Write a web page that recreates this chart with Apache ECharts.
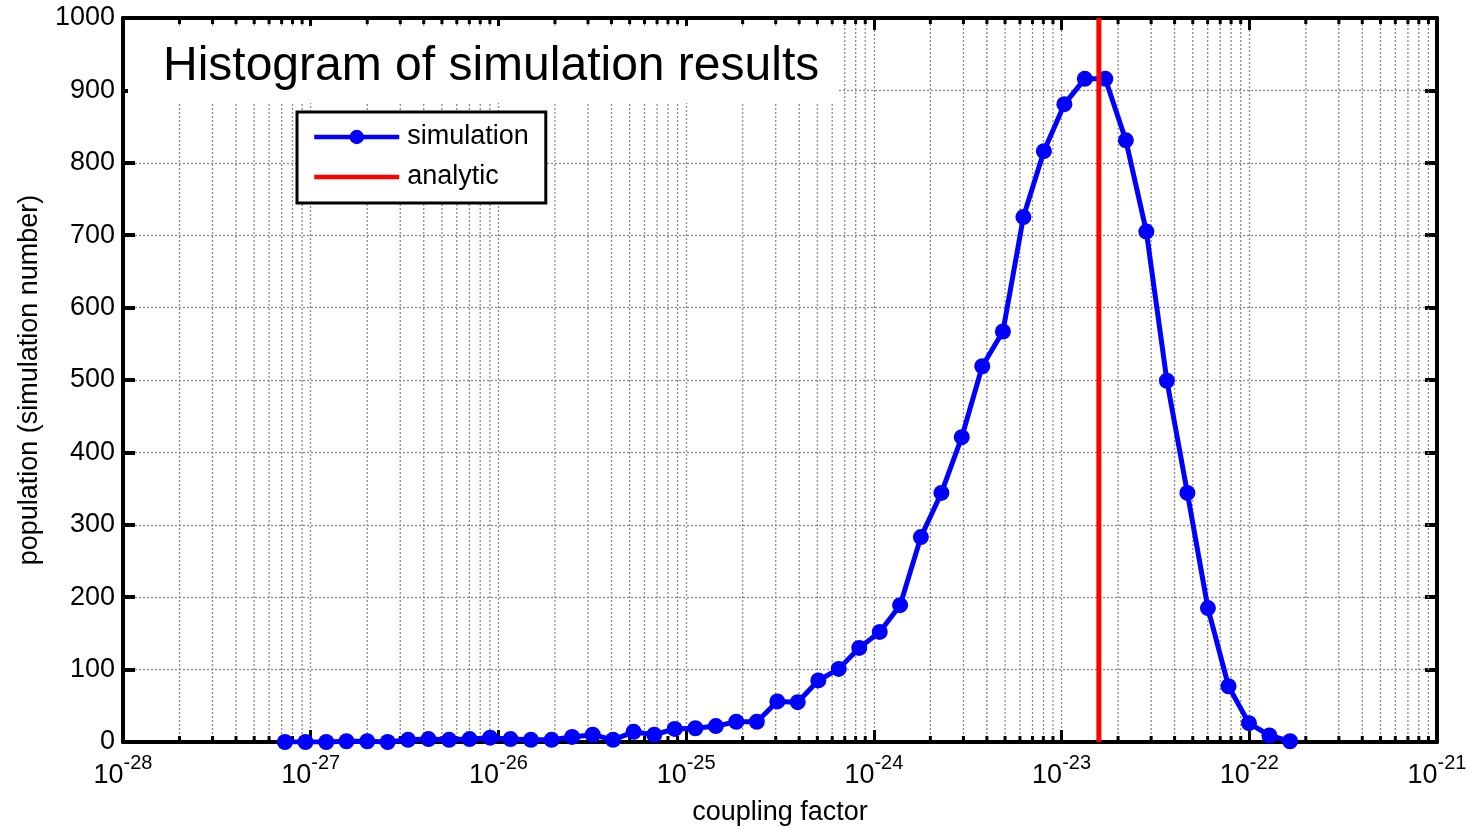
<!DOCTYPE html>
<html><head><meta charset="utf-8">
<script src="https://cdn.jsdelivr.net/npm/echarts@6/dist/echarts.min.js"></script>
<style>html,body{margin:0;padding:0;background:#fff}#c{width:1470px;height:826px}</style>
</head><body><div id="c"></div>
<script>
// ---- data ----
const couplingFactor = [
  7.29e-28, 9.38e-28, 1.21e-27, 1.55e-27, 2.00e-27, 2.57e-27, 3.30e-27, 4.24e-27, 5.46e-27, 7.02e-27,
  9.03e-27, 1.16e-26, 1.49e-26, 1.92e-26, 2.47e-26, 3.18e-26, 4.08e-26, 5.25e-26, 6.76e-26, 8.69e-26,
  1.12e-25, 1.44e-25, 1.85e-25, 2.38e-25, 3.06e-25, 3.93e-25, 5.06e-25, 6.50e-25, 8.36e-25, 1.075e-24,
  1.38e-24, 1.78e-24, 2.29e-24, 2.94e-24, 3.78e-24, 4.87e-24, 6.26e-24, 8.05e-24, 1.035e-23, 1.33e-23,
  1.71e-23, 2.20e-23, 2.83e-23, 3.64e-23, 4.68e-23, 6.02e-23, 7.75e-23, 9.96e-23, 1.28e-22, 1.65e-22
];
const simulationPopulation = [
  0, 0, 0, 1, 1, 0, 3, 4, 3, 4,
  6, 4, 3, 3, 7, 10, 3, 14, 10, 18,
  19, 22, 28, 28, 56, 55, 85, 101, 130, 152,
  189, 283, 344, 421, 519, 567, 725, 816, 881, 916,
  916, 831, 705, 499, 344, 185, 77, 26, 9, 1
];
const analyticCoupling = 1.58e-23;
const analyticRange = [0, 1000];
const xExponentRange = [-28, -21];   // x axis spans 10^-28 .. 10^-21 (log scale)
const yRange = [0, 1000];
const yStep = 100;
const minorMultipliers = [2, 3, 4, 5, 6, 7, 8, 9];
const decadeExponents = [-28, -27, -26, -25, -24, -23, -22];
const titleText = 'Histogram of simulation results';
const xName = 'coupling factor';
const yName = 'population (simulation number)';
const seriesNames = ['simulation', 'analytic'];

// log10 transform: the x axis is a linear axis over the decimal exponent
const lg = v => Math.log10(v);
const minorTickExp = [];
decadeExponents.forEach(e => minorMultipliers.forEach(m => minorTickExp.push(e + Math.log10(m))));

const FONT = '"Liberation Sans", Arial, sans-serif';
const chart = echarts.init(document.getElementById('c'));

const gridStyle = { color: '#8a8a8a', width: 1.3, type: [2, 2] };

const option = {
  backgroundColor: '#fff',
  animation: false,
  textStyle: { fontFamily: FONT, color: '#000' },
  grid: { left: 123, right: 33, top: 18, bottom: 84, containLabel: false, outerBoundsMode: 'none' },
  title: {
    text: titleText,
    left: 128, top: 26,
    backgroundColor: '#fff',
    padding: [15, 18, 10, 35],
    z: 20,
    textStyle: { fontFamily: FONT, fontSize: 48, fontWeight: 'normal', color: '#000', lineHeight: 52 }
  },
  legend: {
    data: [
      { name: seriesNames[0] },
      { name: seriesNames[1], itemStyle: { color: 'rgba(0,0,0,0)', borderWidth: 0, opacity: 0 } }
    ],
    orient: 'vertical',
    left: 297, top: 112,
    backgroundColor: '#fff',
    borderColor: '#000', borderWidth: 3, borderRadius: 0,
    padding: [10, 17, 11, 15],
    itemWidth: 85, itemHeight: 18, itemGap: 10,
    lineStyle: { width: 4.5 },
    z: 21,
    textStyle: { fontFamily: FONT, fontSize: 27, color: '#000', padding: [0, 0, 0, 3], lineHeight: 30 }
  },
  xAxis: [{
    type: 'value', min: xExponentRange[0], max: xExponentRange[1], interval: 1,
    position: 'bottom',
    name: xName, nameLocation: 'middle', nameGap: 57,
    nameTextStyle: { fontFamily: FONT, fontSize: 27, color: '#000' },
    axisLine: { show: true, onZero: false, lineStyle: { color: '#000', width: 4 } },
    axisTick: { show: true, inside: true, length: 12, lineStyle: { color: '#000', width: 3 } },
    splitLine: { show: true, lineStyle: gridStyle },
    axisLabel: {
      margin: 11,
      formatter: v => '{b|10}{s|' + Math.round(v) + '}',
      rich: {
        b: { fontFamily: FONT, fontSize: 27, color: '#000', verticalAlign: 'bottom', lineHeight: 36 },
        s: { fontFamily: FONT, fontSize: 20, color: '#000', verticalAlign: 'top', lineHeight: 36, padding: [0, 0, 14, 0] }
      }
    }
  }, {
    type: 'value', min: xExponentRange[0], max: xExponentRange[1], interval: 1,
    position: 'top',
    axisLine: { show: true, onZero: false, lineStyle: { color: '#000', width: 4 } },
    axisTick: { show: true, inside: true, length: 12, lineStyle: { color: '#000', width: 3 } },
    splitLine: { show: false },
    axisLabel: { show: false }
  }],
  yAxis: [{
    type: 'value', min: yRange[0], max: yRange[1], interval: yStep,
    position: 'left',
    name: yName, nameLocation: 'middle', nameGap: 80,
    nameTextStyle: { fontFamily: FONT, fontSize: 27, color: '#000' },
    axisLine: { show: true, onZero: false, lineStyle: { color: '#000', width: 4 } },
    axisTick: { show: true, inside: true, length: 12, lineStyle: { color: '#000', width: 4 } },
    splitLine: { show: true, lineStyle: gridStyle },
    axisLabel: { fontFamily: FONT, fontSize: 27, color: '#000', margin: 8, formatter: v => String(v) }
  }, {
    type: 'value', min: yRange[0], max: yRange[1], interval: yStep,
    position: 'right',
    axisLine: { show: true, onZero: false, lineStyle: { color: '#000', width: 4 } },
    axisTick: { show: true, inside: true, length: 12, lineStyle: { color: '#000', width: 4 } },
    splitLine: { show: false },
    axisLabel: { show: false }
  }],
  series: [{
    type: 'custom',
    name: 'minorGrid',
    xAxisIndex: 0, yAxisIndex: 0,
    silent: true, clip: false, z: 1,
    data: minorTickExp.map(v => [v, yRange[0]]),
    encode: { x: 0, y: 1 },
    renderItem: (params, api) => {
      const v = api.value(0);
      const pb = api.coord([v, yRange[0]]);
      const pt = api.coord([v, yRange[1]]);
      return {
        type: 'group',
        children: [
          { type: 'line', shape: { x1: pb[0], y1: pb[1], x2: pt[0], y2: pt[1] },
            style: { stroke: gridStyle.color, lineWidth: gridStyle.width, lineDash: gridStyle.type } },
          { type: 'line', shape: { x1: pb[0], y1: pb[1], x2: pb[0], y2: pb[1] - 6 },
            style: { stroke: '#000', lineWidth: 3 } },
          { type: 'line', shape: { x1: pt[0], y1: pt[1], x2: pt[0], y2: pt[1] + 6 },
            style: { stroke: '#000', lineWidth: 3 } }
        ]
      };
    }
  }, {
    type: 'line',
    name: seriesNames[0],
    xAxisIndex: 0, yAxisIndex: 0,
    data: couplingFactor.map((x, i) => [lg(x), simulationPopulation[i]]),
    symbol: 'circle', symbolSize: 16, showSymbol: true,
    color: '#0000ff',
    lineStyle: { color: '#0000ff', width: 5 },
    itemStyle: { color: '#0000ff' },
    z: 5
  }, {
    type: 'line',
    name: seriesNames[1],
    xAxisIndex: 0, yAxisIndex: 0,
    data: analyticRange.map(y => [lg(analyticCoupling), y]),
    symbol: 'none', showSymbol: false,
    color: '#ff0000',
    lineStyle: { color: '#ff0000', width: 5 },
    z: 6
  }]
};
chart.setOption(option);
</script>
</body></html>
